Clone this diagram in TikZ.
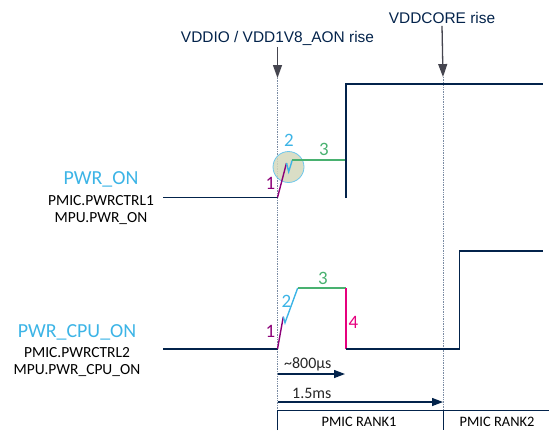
\documentclass[tikz,border=0pt]{standalone}
\usepackage{fontspec}
\setmainfont{Carlito}
\newfontfamily\arialfont{Liberation Sans}
\usetikzlibrary{arrows.meta, positioning}
\definecolor{stnavy}{HTML}{03234B}
\definecolor{stblue}{HTML}{3CB4E6}
\definecolor{stpurple}{HTML}{8C0078}
\definecolor{stgreen}{HTML}{49B170}
\definecolor{stpink}{HTML}{E6007E}
\definecolor{markgray}{HTML}{45454F}
\definecolor{guidegray}{HTML}{7A8BA3}
\definecolor{glitchfill}{HTML}{D3D8BC}
\tikzset{
  wave/.style={draw=stnavy, line width=1.4pt},
  seg/.style={line width=1.4pt},
  guide/.style={draw=guidegray, dash pattern=on 1pt off 0.7pt, line width=0.9pt},
  event/.style={-{Triangle[length=13pt, width=9pt]}, draw=markgray, line width=1.3pt},
  evlabel/.style={font=\arialfont\fontsize{15.5}{18}\selectfont, text=stnavy, inner sep=2pt},
  signame/.style={font=\fontsize{20}{24}\selectfont, text=stblue, inner sep=0pt},
  regname/.style={font=\fontsize{15.5}{18}\selectfont, text=black, inner sep=0pt},
  stepnum/.style={font=\fontsize{19}{22}\selectfont, inner sep=0pt},
  dim/.style={-{Triangle[length=11pt, width=8pt]}, draw=stnavy, line width=1.3pt},
  dimlabel/.style={font=\fontsize{16}{19}\selectfont, text=black!85, inner sep=0pt},
  rankline/.style={draw=stnavy, line width=0.8pt},
  rank/.style={font=\fontsize{14.5}{17}\selectfont, text=black, inner sep=0pt}
}
\begin{document}
\begin{tikzpicture}[x=1bp, y=-1bp]
  \useasboundingbox (0,0) rectangle (549,430);

  % signal names
  \node[signame] (pwron) at (101,179) {PWR\_ON};
  \node[regname, below=8bp of pwron] (ctrl1) {PMIC.PWRCTRL1};
  \node[regname, below=7bp of ctrl1] (mpu1) {MPU.PWR\_ON};
  \node[signame] (pwrcpu) at (77,332) {PWR\_CPU\_ON};
  \node[regname, below=7bp of pwrcpu] (ctrl2) {PMIC.PWRCTRL2};
  \node[regname, below=7bp of ctrl2] (mpu2) {MPU.PWR\_CPU\_ON};

  % supply events
  \node[evlabel] (iorise) at (277.5,38) {VDDIO / VDD1V8\_AON rise};
  \node[evlabel] (corerise) at (442,18) {VDDCORE rise};
  \coordinate (iotip) at (277.5,78);
  \coordinate (coretip) at (443,77);
  \coordinate (iobot) at (277.5,410);
  \coordinate (corebot) at (443,410);
  \draw[guide] (iotip) -- (iobot);
  \draw[guide] (coretip) -- (corebot);
  \draw[event] (iorise.south) -- (iotip);
  \draw[event] (corerise.south) -- (coretip);

  \node[circle, draw=stblue!75, fill=glitchfill, fill opacity=0.85, line width=0.8pt,
        minimum size=31bp, inner sep=0pt] (glitch) at (288.5,167) {};

  % PWR_ON
  \coordinate (a0) at (163,197.5);
  \coordinate (a1) at (277.5,197.5);
  \coordinate (a2) at (286.5,163);
  \coordinate (a3) at (288.7,171.7);
  \coordinate (a4) at (292.3,160);
  \coordinate (a5) at (346,160);
  \coordinate (a6) at (346,198);
  \coordinate (a7) at (346,84);
  \coordinate (a8) at (543,84);
  \draw[wave] (a0) -- (a1);
  \draw[seg, stpurple] (a1) -- (a2);
  \draw[seg, stblue] (a2) -- (a3) -- (a4);
  \draw[seg, stgreen] (a4) -- (a5);
  \draw[wave] (a6) -- (a7) -- (a8);
  \node[stepnum, text=stpurple] (n1a) at (270.5,183) {1};
  \node[stepnum, text=stblue] (n2a) at (289,140) {2};
  \node[stepnum, text=stgreen] (n3a) at (324,149) {3};

  % PWR_CPU_ON
  \coordinate (b0) at (163,349);
  \coordinate (b1) at (277.5,349);
  \coordinate (b2) at (283.3,316.7);
  \coordinate (b3) at (285,322.7);
  \coordinate (b4) at (297.7,288);
  \coordinate (b5) at (346,288);
  \coordinate (b6) at (346,349);
  \coordinate (b7) at (459.3,349);
  \coordinate (b8) at (459.3,251);
  \coordinate (b9) at (543,251);
  \draw[wave] (b0) -- (b1);
  \draw[seg, stpurple] (b1) -- (b2);
  \draw[seg, stblue] (b2) -- (b3) -- (b4);
  \draw[seg, stgreen] (b4) -- (b5);
  \draw[seg, stpink] (b5) -- (b6);
  \draw[wave] (b6) -- (b7) -- (b8) -- (b9);
  \node[stepnum, text=stpurple] (n1b) at (270.5,331) {1};
  \node[stepnum, text=stblue] (n2b) at (286.5,301) {2};
  \node[stepnum, text=stgreen] (n3b) at (323,278) {3};
  \node[stepnum, text=stpink] (n4b) at (353.5,322) {4};

  % timings
  \coordinate (t0a) at (277.5,374);
  \coordinate (t800) at (345,374);
  \coordinate (t0b) at (277.5,402);
  \coordinate (t15) at (443,402);
  \draw[dim] (t0a) -- (t800);
  \draw[dim] (t0b) -- (t15);
  \node[dimlabel, anchor=base west] (lbl800) at (284,368) {\textasciitilde800µs};
  \node[dimlabel, anchor=base west] (lbl15) at (292,398) {1.5ms};

  % PMIC ranks
  \coordinate (r0) at (277.5,430);
  \coordinate (r1) at (443,430);
  \coordinate (rend) at (549,410);
  \draw[rankline] (r0) -- (iobot) -- (rend);
  \draw[rankline] (corebot) -- (r1);
  \node[rank] (rank1) at (359,422) {PMIC RANK1};
  \node[rank] (rank2) at (497,422) {PMIC RANK2};
\end{tikzpicture}
\end{document}
